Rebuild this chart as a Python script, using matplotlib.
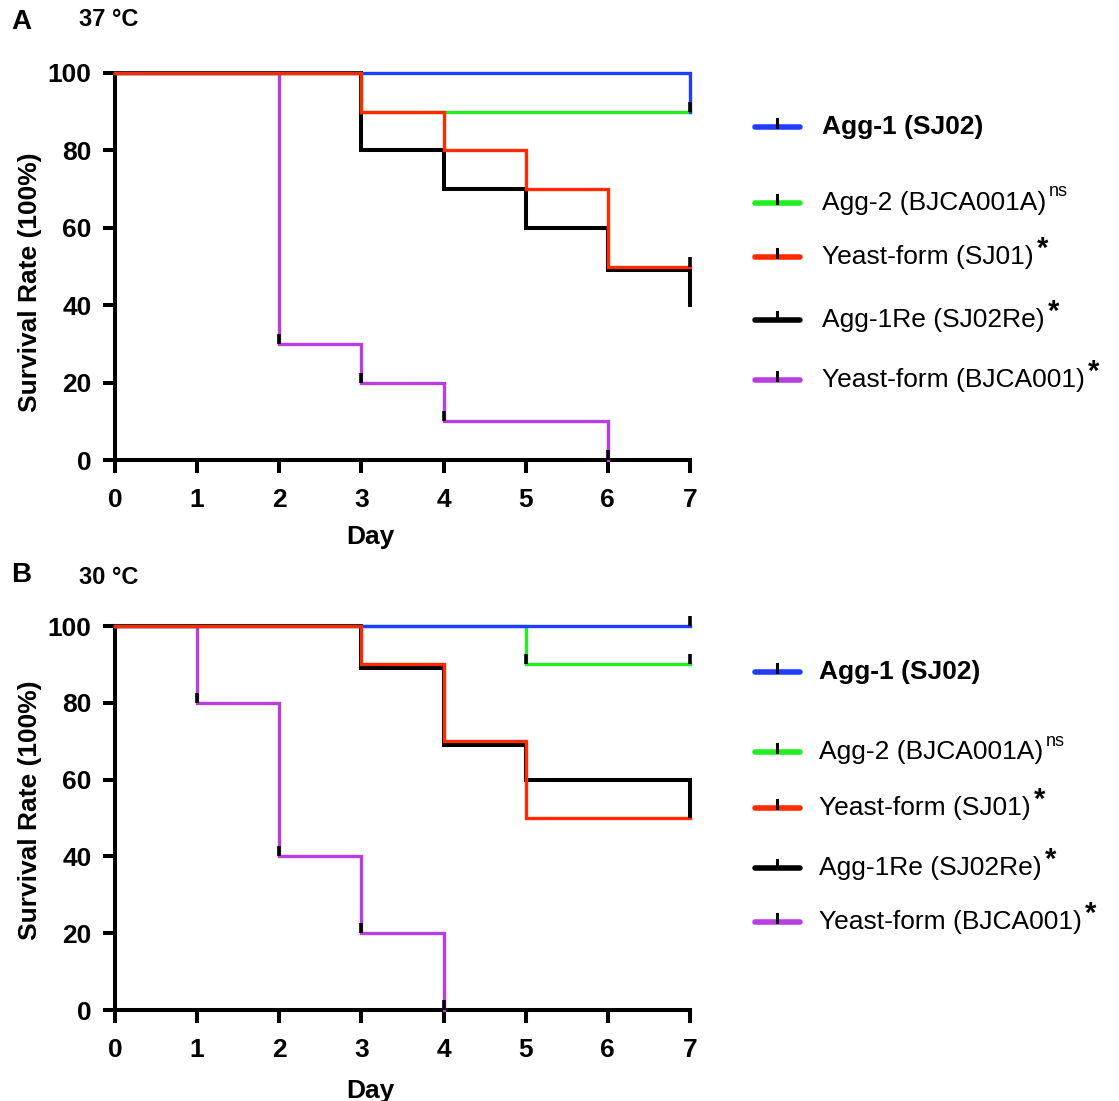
import matplotlib
matplotlib.use("Agg")

import matplotlib.pyplot as plt
from matplotlib.lines import Line2D

plt.rcParams["font.family"] = ["Liberation Sans", "DejaVu Sans"]

# colours of the five strains
BLUE = "#1f3cff"
GREEN = "#22ee22"
RED = "#ff2a00"
BLACK = "#000000"
PURPLE = "#b83ee2"

names = ["Agg-1 (SJ02)", "Agg-2 (BJCA001A)", "Yeast-form (SJ01)",
         "Agg-1Re (SJ02Re)", "Yeast-form (BJCA001)"]
marks = ["", "ns", "*", "*", "*"]
colors = [BLUE, GREEN, RED, BLACK, PURPLE]

# survival curves, 37 C (step after each day)
a_agg1_x = [0, 7, 7]
a_agg1_y = [100, 100, 90]
a_agg2_x = [0, 3, 3, 7]
a_agg2_y = [100, 100, 90, 90]
a_sj01_x = [0, 3, 3, 4, 4, 5, 5, 6, 6, 7]
a_sj01_y = [100, 100, 90, 90, 80, 80, 70, 70, 50, 50]
a_re_x = [0, 3, 3, 4, 4, 5, 5, 6, 6, 7, 7]
a_re_y = [100, 100, 80, 80, 70, 70, 60, 60, 49, 49, 40]
a_bj_x = [0, 2, 2, 3, 3, 4, 4, 6, 6]
a_bj_y = [100, 100, 30, 30, 20, 20, 10, 10, 0]

# censor / event ticks, 37 C
a_tick_x = [[7], [], [7], [7], [2, 3, 4, 6]]
a_tick_y = [[90], [], [50], [40], [30, 20, 10, 0]]

# survival curves, 30 C
b_agg1_x = [0, 7]
b_agg1_y = [100, 100]
b_agg2_x = [0, 5, 5, 7]
b_agg2_y = [100, 100, 90, 90]
b_sj01_x = [0, 3, 3, 4, 4, 5, 5, 7]
b_sj01_y = [100, 100, 90, 90, 70, 70, 50, 50]
b_re_x = [0, 3, 3, 4, 4, 5, 5, 7, 7]
b_re_y = [100, 100, 89, 89, 69, 69, 60, 60, 50]
b_bj_x = [0, 1, 1, 2, 2, 3, 3, 4, 4]
b_bj_y = [100, 100, 80, 80, 40, 40, 20, 20, 0]

b_tick_x = [[7], [5, 7], [], [7], [1, 2, 3, 4]]
b_tick_y = [[100], [90, 90], [], [50], [80, 40, 20, 0]]

x_ticks = [0, 1, 2, 3, 4, 5, 6, 7]
y_ticks = [0, 20, 40, 60, 80, 100]

W, H = 1119, 1101
fig = plt.figure(figsize=(W / 100, H / 100), dpi=100)


def px(x, y):
    return x / W, 1 - y / H


def panel(rect, curves, ticks_x, ticks_y, ylab_y, xlab_y):
    ax = fig.add_axes(rect)
    # purple first, blue on top at 100 like the original
    order = [4, 3, 1, 2, 0]
    for i in order:
        xs, ys = curves[i]
        ax.plot(xs, ys, color=colors[i], lw=2.9 if i == 3 else 2.4,
                clip_on=False, solid_joinstyle="miter",
                zorder=3 + (i == 2) * 0.5)
    for i in range(5):
        if ticks_x[i]:
            ax.plot(ticks_x[i], ticks_y[i], ls="none", marker=2, ms=7,
                    mew=2.6, color="black", clip_on=False, zorder=6)
    ax.set_xlim(0, 7)
    ax.set_ylim(0, 100)
    ax.set_xticks(x_ticks)
    ax.set_yticks(y_ticks)
    for s in ["top", "right"]:
        ax.spines[s].set_visible(False)
    for s in ["left", "bottom"]:
        ax.spines[s].set_linewidth(2.9)
    ax.tick_params(width=2.9, length=9, labelsize=19)
    ax.tick_params(axis="x", pad=11)
    ax.tick_params(axis="y", pad=8)
    for lab in ax.get_xticklabels() + ax.get_yticklabels():
        lab.set_fontweight("bold")
    ax.set_xlabel("Day", fontsize=19, fontweight="bold")
    ax.set_ylabel("Survival Rate (100%)", fontsize=19, fontweight="bold")
    ax.xaxis.set_label_coords(0.445, xlab_y)
    ax.yaxis.set_label_coords(-0.127, ylab_y)
    return ax


a_curves = [(a_agg1_x, a_agg1_y), (a_agg2_x, a_agg2_y), (a_sj01_x, a_sj01_y),
            (a_re_x, a_re_y), (a_bj_x, a_bj_y)]
b_curves = [(b_agg1_x, b_agg1_y), (b_agg2_x, b_agg2_y), (b_sj01_x, b_sj01_y),
            (b_re_x, b_re_y), (b_bj_x, b_bj_y)]

panel([115 / W, 1 - 460 / H, 575 / W, 387 / H], a_curves, a_tick_x, a_tick_y,
      0.46, -0.169)
panel([115 / W, 1 - 1010 / H, 575 / W, 384 / H], b_curves, b_tick_x, b_tick_y,
      0.52, -0.179)

# panel letters and temperatures
fig.text(*px(11, 22), "A", fontsize=20, fontweight="bold", va="center")
fig.text(*px(79, 19), "37 °C", fontsize=17, fontweight="bold", va="center")
fig.text(*px(11, 575), "B", fontsize=20, fontweight="bold", va="center")
fig.text(*px(79, 578), "30 °C", fontsize=17, fontweight="bold", va="center")

# hand-placed legends
renderer = fig.canvas.get_renderer()


def legend(rows_y, text_x):
    for i, yy in enumerate(rows_y):
        x0, y0 = px(755, yy)
        x1, _ = px(800, yy)
        fig.add_artist(Line2D([x0, x1], [y0, y0], color=colors[i], lw=4,
                              solid_capstyle="round", transform=fig.transFigure))
        xm, _ = px(777, yy)
        fig.add_artist(Line2D([xm, xm], [y0, y0 + 8 / H], color="black", lw=2.2,
                              transform=fig.transFigure))
        t = fig.text(*px(text_x, yy), names[i], fontsize=19, va="center",
                     fontweight="bold" if i == 0 else "normal")
        if marks[i]:
            bb = t.get_window_extent(renderer)
            sx = bb.x1 / W + 3 / W
            if marks[i] == "ns":
                fig.text(sx, (bb.y1 - 1) / H, "ns", fontsize=13, va="center")
            else:
                fig.text(sx, (bb.y1 - 4) / H, "*", fontsize=21,
                         fontweight="bold", va="center")


legend([127, 203, 257, 320, 380], 822)
legend([672, 752, 808, 868, 922], 819)

fig.savefig("out.png", dpi=100)
